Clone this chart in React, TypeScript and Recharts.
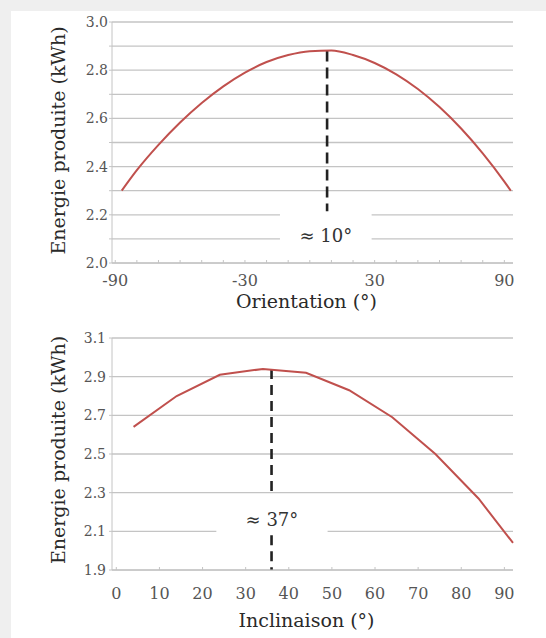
import {
  LineChart,
  Line,
  XAxis,
  YAxis,
  CartesianGrid,
  ReferenceLine,
  ReferenceArea,
} from "recharts";

// Top chart: energy vs orientation
const orientationDeg = [-87, -80, -70, -60, -50, -40, -30, -20, -10, 0, 10, 20, 30, 40, 50, 60, 70, 80, 90, 93];
const orientationEnergy = [2.3, 2.385, 2.49, 2.583, 2.664, 2.733, 2.79, 2.834, 2.863, 2.879, 2.882, 2.863, 2.83, 2.783, 2.722, 2.647, 2.558, 2.455, 2.338, 2.3];
const orientationTicks = [-90, -80, -70, -60, -50, -40, -30, -20, -10, 0, 10, 20, 30, 40, 50, 60, 70, 80, 90];
const orientationTickLabels = [-90, -30, 30, 90];
const energyTicksTop = [2.0, 2.1, 2.2, 2.3, 2.4, 2.5, 2.6, 2.7, 2.8, 2.9, 3.0];
const energyTickLabelsTop = [2.0, 2.2, 2.4, 2.6, 2.8, 3.0];

// Bottom chart: energy vs inclination
const inclinationDeg = [4, 14, 24, 34, 44, 54, 64, 74, 84, 92];
const inclinationEnergy = [2.64, 2.8, 2.91, 2.94, 2.92, 2.83, 2.69, 2.5, 2.27, 2.04];
const inclinationTicks = [0, 10, 20, 30, 40, 50, 60, 70, 80, 90];
const energyTicksBottom = [1.9, 2.1, 2.3, 2.5, 2.7, 2.9, 3.1];

// annotations
const orientationOptimum = { x: 8, top: 2.882, bottom: 2.215, label: "≈ 10°" };
const inclinationOptimum = { x: 36, top: 2.94, gapTop: 2.3, gapBottom: 2.08, bottom: 1.9, label: "≈ 37°" };

const orientationData = orientationDeg.map((deg, i) => ({ deg, energy: orientationEnergy[i] }));
const inclinationData = inclinationDeg.map((deg, i) => ({ deg, energy: inclinationEnergy[i] }));

const FONT = "'DejaVu Serif', 'Liberation Serif', serif";
const GRID = "#c4c4c4";
const RED = "#c0504d";
const tickStyle = { fontFamily: FONT, fontSize: 14, fill: "#555" };
const xTickStyle = { fontFamily: FONT, fontSize: 16, fill: "#555" };
const titleStyle = { fontFamily: FONT, fontSize: 19, fill: "#2a2a2a" };

const isOneOf = (list: number[], v: number) => list.some((l) => Math.abs(l - v) < 1e-6);

export default function App() {
  return (
    <div style={{ position: "absolute", left: 0, top: 0, width: 546, height: 638, background: "#efefef", overflow: "hidden" }}>
      <div style={{ position: "absolute", left: 11, top: 11, right: 0, bottom: 0, background: "#fff" }} />

      <div style={{ position: "absolute", left: 0, top: 0 }}>
        <LineChart width={546} height={320} data={orientationData} margin={{ top: 22, right: 33, left: 0, bottom: 7 }}>
          <CartesianGrid stroke={GRID} strokeWidth={1.3} vertical={false} />
          <XAxis
            dataKey="deg"
            type="number"
            domain={[-91.5, 94]}
            ticks={orientationTicks}
            tickFormatter={(v: number) => (isOneOf(orientationTickLabels, v) ? String(v) : "")}
            interval={0}
            height={50}
            stroke={GRID}
            tickSize={-3}
            tickMargin={15}
            tick={xTickStyle}
            label={{ value: "Orientation (°)", position: "insideBottom", offset: 5, dx: -6, ...titleStyle }}
          />
          <YAxis
            type="number"
            domain={[2.0, 3.0]}
            ticks={energyTicksTop}
            tickFormatter={(v: number) => (isOneOf(energyTickLabelsTop, v) ? v.toFixed(1) : "")}
            interval={0}
            width={112}
            stroke={GRID}
            tickSize={3}
            tickMargin={1}
            tick={tickStyle}
            label={{ value: "Energie produite (kWh)", angle: -90, position: "center", dx: 2, dy: -2, ...titleStyle }}
          />
          <ReferenceArea
            x1={-13.8}
            x2={28.6}
            y1={2.03}
            y2={2.26}
            fill="#fff"
            fillOpacity={1}
            stroke="none"
            label={{ value: orientationOptimum.label, position: "center", dy: 8, ...titleStyle, fontSize: 18, fill: "#333" }}
          />
          <ReferenceLine
            segment={[
              { x: orientationOptimum.x, y: orientationOptimum.top },
              { x: orientationOptimum.x, y: orientationOptimum.bottom },
            ]}
            stroke="#222"
            strokeWidth={2.6}
            strokeDasharray="11 6"
          />
          <Line
            type="monotone"
            dataKey="energy"
            stroke={RED}
            strokeWidth={2}
            dot={false}
            isAnimationActive={false}
          />
        </LineChart>
      </div>

      <div style={{ position: "absolute", left: 0, top: 320 }}>
        <LineChart width={546} height={318} data={inclinationData} margin={{ top: 18, right: 33, left: 0, bottom: 6 }}>
          <CartesianGrid stroke={GRID} strokeWidth={1.3} vertical={false} />
          <XAxis
            dataKey="deg"
            type="number"
            domain={[-1, 92]}
            ticks={inclinationTicks}
            interval={0}
            height={62}
            stroke={GRID}
            tickSize={-3}
            tickMargin={21}
            tick={xTickStyle}
            label={{ value: "Inclinaison (°)", position: "insideBottom", offset: 5, dx: -6, ...titleStyle }}
          />
          <YAxis
            type="number"
            domain={[1.9, 3.1]}
            ticks={energyTicksBottom}
            tickFormatter={(v: number) => v.toFixed(1)}
            interval={0}
            width={112}
            stroke={GRID}
            tickSize={3}
            tickMargin={3}
            tick={tickStyle}
            label={{ value: "Energie produite (kWh)", angle: -90, position: "center", dx: 2, dy: -4, ...titleStyle }}
          />
          <ReferenceArea
            x1={23.2}
            x2={49}
            y1={2.085}
            y2={2.28}
            fill="#fff"
            fillOpacity={1}
            stroke="none"
            label={{ value: inclinationOptimum.label, position: "center", dy: 4, ...titleStyle, fontSize: 18, fill: "#333" }}
          />
          <ReferenceLine
            segment={[
              { x: inclinationOptimum.x, y: inclinationOptimum.top },
              { x: inclinationOptimum.x, y: inclinationOptimum.gapTop },
            ]}
            stroke="#222"
            strokeWidth={2.6}
            strokeDasharray="10 6"
          />
          <ReferenceLine
            segment={[
              { x: inclinationOptimum.x, y: inclinationOptimum.gapBottom },
              { x: inclinationOptimum.x, y: inclinationOptimum.bottom },
            ]}
            stroke="#222"
            strokeWidth={2.6}
            strokeDasharray="10 6"
          />
          <Line
            type="linear"
            dataKey="energy"
            stroke={RED}
            strokeWidth={2}
            dot={false}
            isAnimationActive={false}
          />
        </LineChart>
      </div>
    </div>
  );
}
